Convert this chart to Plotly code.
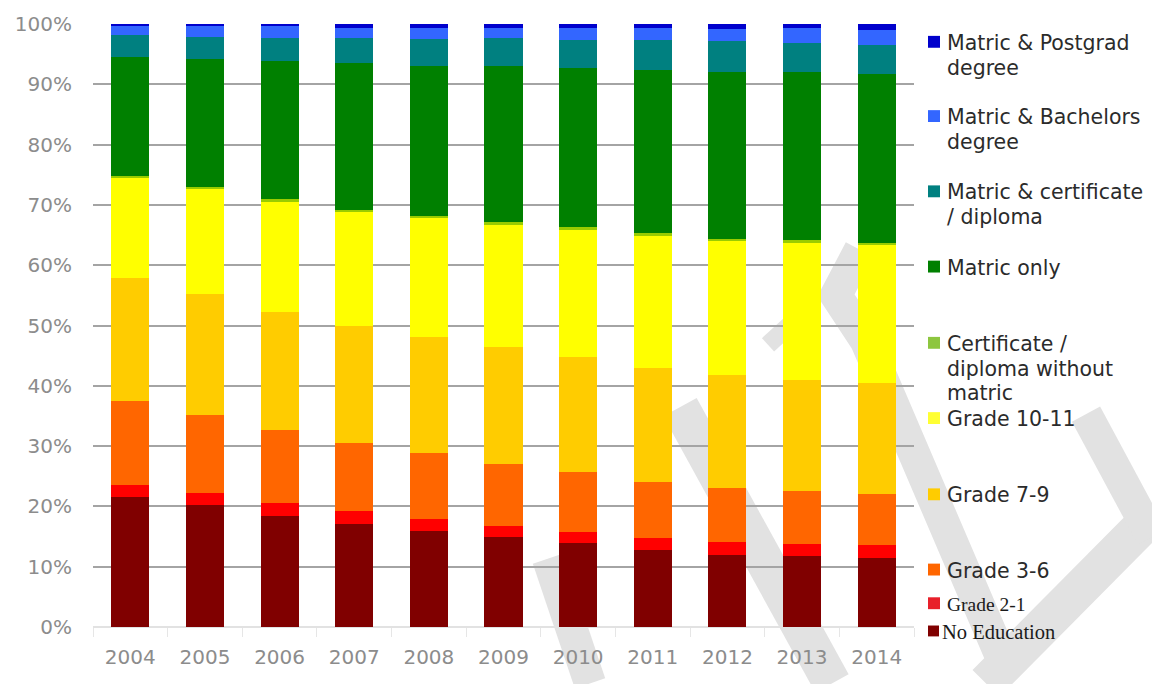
import plotly.graph_objects as go

# Share of population by highest level of education, 2004-2014 (percent)
years = ["2004", "2005", "2006", "2007", "2008", "2009", "2010", "2011", "2012", "2013", "2014"]

no_education = [21.6, 20.2, 18.4, 17.0, 15.9, 14.9, 13.9, 12.8, 12.0, 11.7, 11.4]
grade_2_1 = [2.0, 2.1, 2.2, 2.2, 2.0, 1.8, 1.9, 2.0, 2.1, 2.0, 2.2]
grade_3_6 = [13.8, 12.9, 12.0, 11.3, 10.9, 10.3, 9.9, 9.2, 8.9, 8.8, 8.5]
grade_7_9 = [20.4, 20.0, 19.6, 19.4, 19.3, 19.5, 19.1, 19.0, 18.8, 18.4, 18.3]
grade_10_11 = [16.7, 17.5, 18.4, 19.0, 19.8, 20.3, 21.2, 22.0, 22.3, 22.8, 22.9]
cert_no_matric = [0.3, 0.3, 0.3, 0.3, 0.3, 0.3, 0.3, 0.3, 0.3, 0.4, 0.4]
matric_only = [19.7, 21.2, 22.9, 24.3, 24.9, 25.9, 26.4, 27.0, 27.7, 27.9, 28.0]
matric_cert = [3.6, 3.7, 3.9, 4.1, 4.4, 4.6, 4.6, 5.0, 5.0, 4.8, 4.8]
matric_bachelors = [1.6, 1.8, 1.9, 1.7, 1.8, 1.7, 2.0, 2.0, 2.1, 2.5, 2.5]
matric_postgrad = [0.3, 0.3, 0.4, 0.7, 0.7, 0.7, 0.7, 0.7, 0.8, 0.7, 1.0]

y_tick_values = [0, 10, 20, 30, 40, 50, 60, 70, 80, 90, 100]
y_tick_labels = ["0%", "10%", "20%", "30%", "40%", "50%", "60%", "70%", "80%", "90%", "100%"]

# stacking order, bottom to top
series = [
    ("No Education", no_education, "#800000"),
    ("Grade 2-1", grade_2_1, "#FF0000"),
    ("Grade 3-6", grade_3_6, "#FF6600"),
    ("Grade 7-9", grade_7_9, "#FFCC00"),
    ("Grade 10-11", grade_10_11, "#FFFF00"),
    ("Certificate / diploma without matric", cert_no_matric, "#99CC00"),
    ("Matric only", matric_only, "#008000"),
    ("Matric & certificate / diploma", matric_cert, "#008080"),
    ("Matric & Bachelors degree", matric_bachelors, "#3366FF"),
    ("Matric & Postgrad degree", matric_postgrad, "#0000CC"),
]

# legend entries: (text lines, colour, font family, font size, first-line centre y in px)
SANS = "DejaVu Sans"
SERIF = "Liberation Serif"
legend_rows = [
    (["Matric & Postgrad", "degree"], "#0000CC", SANS, 20.5, 37),
    (["Matric & Bachelors", "degree"], "#3366FF", SANS, 20.5, 112),
    (["Matric & certificate", "/ diploma"], "#008080", SANS, 20.5, 188),
    (["Matric only"], "#008000", SANS, 20.5, 264),
    (["Certificate /", "diploma without", "matric"], "#8DC63F", SANS, 20.5, 341),
    (["Grade 10-11"], "#FFFF33", SANS, 20.5, 417),
    (["Grade 7-9"], "#FFCC00", SANS, 20.5, 494),
    (["Grade 3-6"], "#FF6600", SANS, 20.5, 570),
    (["Grade 2-1"], "#E8202A", SERIF, 19.5, 604),
    (["No Education"], "#800000", SERIF, 20.5, 632),
]
LINE_STEP = 25

W, H = 1152, 684
L, R, T, B = 93, 914, 18, 627


def px(x):
    return (x - L) / (R - L)


def py(y):
    return (B - y) / (B - T)


fig = go.Figure()
for name, vals, color in series:
    fig.add_trace(go.Bar(
        x=years, y=vals, name=name,
        marker=dict(color=color, line=dict(width=0)),
    ))

annotations = []
shapes = []

# legend drawn beside the plot
for lines, color, fam, size, y0 in legend_rows:
    compact = lines[0] == "No Education"
    sq = 11 if compact else 12
    tx = 940 if compact else 945
    sx0 = 928
    shapes.append(dict(
        type="rect", xref="paper", yref="paper", layer="above",
        x0=px(sx0), x1=px(sx0 + sq), y0=py(y0 - 1 - sq / 2), y1=py(y0 - 1 + sq / 2),
        fillcolor=color, line=dict(width=0),
    ))
    for i, line in enumerate(lines):
        annotations.append(dict(
            text=line, xref="paper", yref="paper",
            x=px(tx), y=py(y0 + i * LINE_STEP),
            xanchor="left", yanchor="middle", showarrow=False,
            font=dict(family=fam, size=size, color="#2b2b2b" if fam == SANS else "#1a1a1a"),
        ))

# faint background watermark strokes
wm_strokes = [
    ([(548, 558), (590, 684)], 32),
    ([(680, 405), (832, 684)], 38),
    ([(860, 246), (836, 292), (866, 338), (1004, 664)], 32),
    ([(768, 342), (796, 316)], 18),
    ([(986, 684), (1152, 515)], 38),
    ([(1086, 412), (1152, 536)], 32),
]
for pts, width in wm_strokes:
    path = "M " + " L ".join(f"{px(x):.4f},{py(y):.4f}" for x, y in pts)
    shapes.append(dict(
        type="path", xref="paper", yref="paper", layer="below",
        path=path, line=dict(color="#e2e2e2", width=width),
    ))

fig.update_layout(
    width=W, height=H,
    barmode="stack", bargap=0.49,
    showlegend=False,
    paper_bgcolor="white", plot_bgcolor="rgba(0,0,0,0)",
    margin=dict(l=L, r=W - R, t=T, b=H - B, pad=0),
    font=dict(family=SANS, color="#8c8c8c"),
    annotations=annotations,
    shapes=shapes,
)
fig.update_xaxes(
    type="category", range=[-0.5, 10.5],
    showgrid=False, showline=True, linecolor="#e2e2e2", linewidth=1,
    ticks="outside", tickson="boundaries", ticklen=9, tickcolor="#e6e6e6",
    tickfont=dict(family=SANS, size=20, color="#8c8c8c"),
    ticklabelstandoff=12,
)
fig.update_yaxes(
    range=[0, 100], tickmode="array", tickvals=y_tick_values, ticktext=y_tick_labels,
    showgrid=True, gridcolor="#a4a4a4", gridwidth=1.5,
    zeroline=True, zerolinecolor="#e2e2e2", zerolinewidth=2,
    showline=False, ticks="",
    tickfont=dict(family=SANS, size=20, color="#8c8c8c"),
    ticklabelstandoff=20,
)

fig.write_html("out.html")
